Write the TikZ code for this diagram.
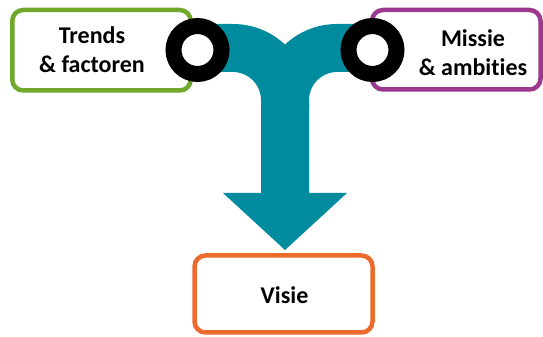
\documentclass[tikz,border=0pt]{standalone}
\usepackage{fontspec}
\setmainfont{Carlito}[Ligatures=NoCommon]
\definecolor{boxgreen}{RGB}{112,168,44}
\definecolor{boxpurple}{RGB}{156,56,142}
\definecolor{boxorange}{RGB}{236,106,44}
\definecolor{pipeteal}{RGB}{0,139,159}
\tikzset{
  labelbox/.style={line width=4.5pt, rounded corners=11pt},
  labeltext/.style={align=center, font=\fontsize{24}{29}\selectfont\bfseries, inner sep=0pt},
  ring/.style={draw=black, line width=16pt, fill=white},
  pipe/.style={fill=pipeteal, draw=none}
}
\begin{document}
\begin{tikzpicture}[x=1pt,y=1pt]
\useasboundingbox (0,0) rectangle (543,337);
% boxes
\draw[labelbox, draw=boxgreen, fill=white] (12.25,327) rectangle (190.75,246.5);
\draw[labelbox, draw=boxpurple, fill=white] (372,327) rectangle (540.5,247.5);
\draw[labelbox, draw=boxorange, fill=white] (194.5,81.5) rectangle (372.5,4.5);
% pipes
\fill[pipe] (190,313) -- (233,313) arc[start angle=90,end angle=0,radius=76] -- (309,228) -- (261,228) -- (261,237) arc[start angle=0,end angle=90,radius=28] -- (190,265) -- cycle;
\fill[pipe] (380,313) -- (337,313) arc[start angle=90,end angle=180,radius=76] -- (261,228) -- (309,228) -- (309,237) arc[start angle=180,end angle=90,radius=28] -- (380,265) -- cycle;
\fill[pipe] (261,232) -- (261,144) -- (223,144) -- (285,87) -- (347,144) -- (309,144) -- (309,232) -- cycle;
% rings
\coordinate (lring) at (197.5,287);
\coordinate (rring) at (372.5,287);
\draw[ring] (lring) circle[radius=24];
\draw[ring] (rring) circle[radius=24];
% texts
\node[labeltext] (trends) at (92,287) {Trends\\\& factoren};
\node[labeltext] (missie) at (473,284) {Missie\\\& ambities};
\node[labeltext] (visie) at (284.5,42) {Visie};
\end{tikzpicture}
\end{document}
